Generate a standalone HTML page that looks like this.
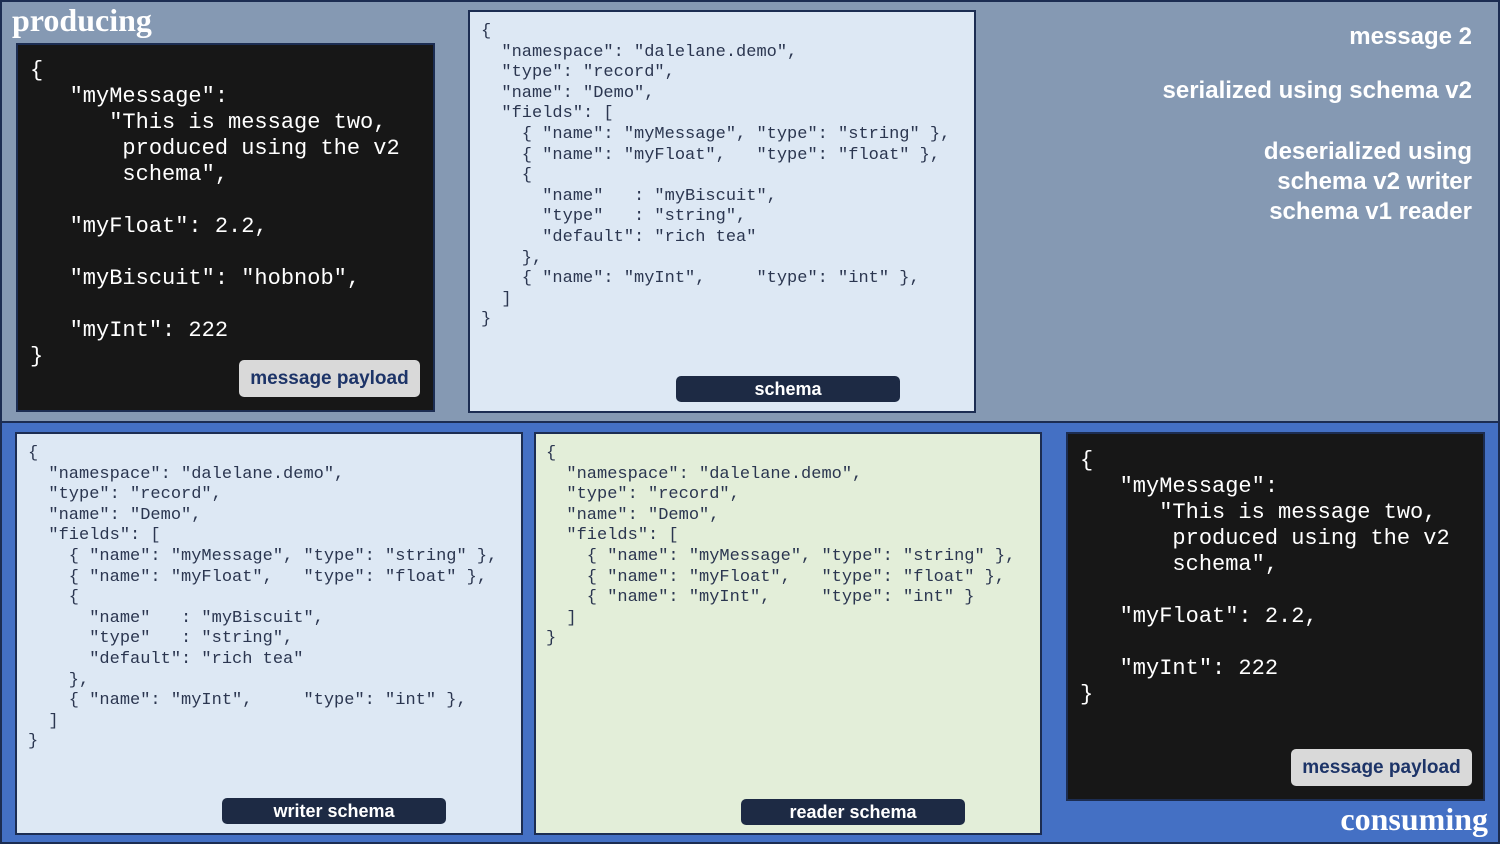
<!DOCTYPE html>
<html><head><meta charset="utf-8"><style>
*{margin:0;padding:0;box-sizing:border-box}
body{width:1500px;height:844px;overflow:hidden;position:relative;font-family:"Liberation Sans",sans-serif}
.sec{position:absolute;border:2px solid #1c2d52}
.p{position:absolute;border:2px solid #1c2d52}
pre{position:absolute;font-family:"Liberation Mono",monospace;white-space:pre}
.sc{font-size:17px;line-height:20.6px;color:#2b3650}
.dk{font-size:22px;line-height:26px;color:#fff}
.lbl{position:absolute;font-weight:bold;font-size:19px;text-align:center;border-radius:5px}
.mp{background:#d9d9d9;color:#1d3468;line-height:37px}
.sl{background:#1d2a44;color:#fff;line-height:26px;font-size:18px}
.rt{position:absolute;right:28px;color:#fff;font-weight:bold;font-size:24px;text-align:right;line-height:30px}
.ttl{position:absolute;font-family:"Liberation Serif",serif;font-weight:bold;font-size:32px;color:#fff}
</style></head><body>
<div class="sec" style="left:0;top:0;width:1500px;height:423px;background:#8599b3"></div>
<div class="sec" style="left:0;top:421px;width:1500px;height:423px;background:#4470c4"></div>
<div class="ttl" style="left:12px;top:2px">producing</div>
<div class="ttl" style="right:12px;top:801px">consuming</div>

<div class="p" style="left:16px;top:43px;width:419px;height:369px;background:#171717"></div>
<pre class="dk" style="left:30px;top:58px">{
   "myMessage":
      "This is message two,
       produced using the v2
       schema",

   "myFloat": 2.2,

   "myBiscuit": "hobnob",

   "myInt": 222
}</pre>
<div class="lbl mp" style="left:239px;top:360px;width:181px">message payload</div>

<div class="p" style="left:468px;top:10px;width:508px;height:403px;background:#dde8f4"></div>
<pre class="sc" style="left:481px;top:22px">{
  "namespace": "dalelane.demo",
  "type": "record",
  "name": "Demo",
  "fields": [
    { "name": "myMessage", "type": "string" },
    { "name": "myFloat",   "type": "float" },
    {
      "name"   : "myBiscuit",
      "type"   : "string",
      "default": "rich tea"
    },
    { "name": "myInt",     "type": "int" },
  ]
}</pre>
<div class="lbl sl" style="left:676px;top:376px;width:224px">schema</div>

<div class="rt" style="top:22px">message 2</div>
<div class="rt" style="top:76px">serialized using schema v2</div>
<div class="rt" style="top:137px">deserialized using<br>schema v2 writer<br>schema v1 reader</div>

<div class="p" style="left:15px;top:432px;width:508px;height:403px;background:#dde8f4"></div>
<pre class="sc" style="left:28px;top:444px">{
  "namespace": "dalelane.demo",
  "type": "record",
  "name": "Demo",
  "fields": [
    { "name": "myMessage", "type": "string" },
    { "name": "myFloat",   "type": "float" },
    {
      "name"   : "myBiscuit",
      "type"   : "string",
      "default": "rich tea"
    },
    { "name": "myInt",     "type": "int" },
  ]
}</pre>
<div class="lbl sl" style="left:222px;top:798px;width:224px">writer schema</div>

<div class="p" style="left:534px;top:432px;width:508px;height:403px;background:#e3eed9"></div>
<pre class="sc" style="left:546px;top:444px">{
  "namespace": "dalelane.demo",
  "type": "record",
  "name": "Demo",
  "fields": [
    { "name": "myMessage", "type": "string" },
    { "name": "myFloat",   "type": "float" },
    { "name": "myInt",     "type": "int" }
  ]
}</pre>
<div class="lbl sl" style="left:741px;top:799px;width:224px">reader schema</div>

<div class="p" style="left:1066px;top:432px;width:419px;height:369px;background:#171717"></div>
<pre class="dk" style="left:1080px;top:448px">{
   "myMessage":
      "This is message two,
       produced using the v2
       schema",

   "myFloat": 2.2,

   "myInt": 222
}</pre>
<div class="lbl mp" style="left:1291px;top:749px;width:181px">message payload</div>
</body></html>
